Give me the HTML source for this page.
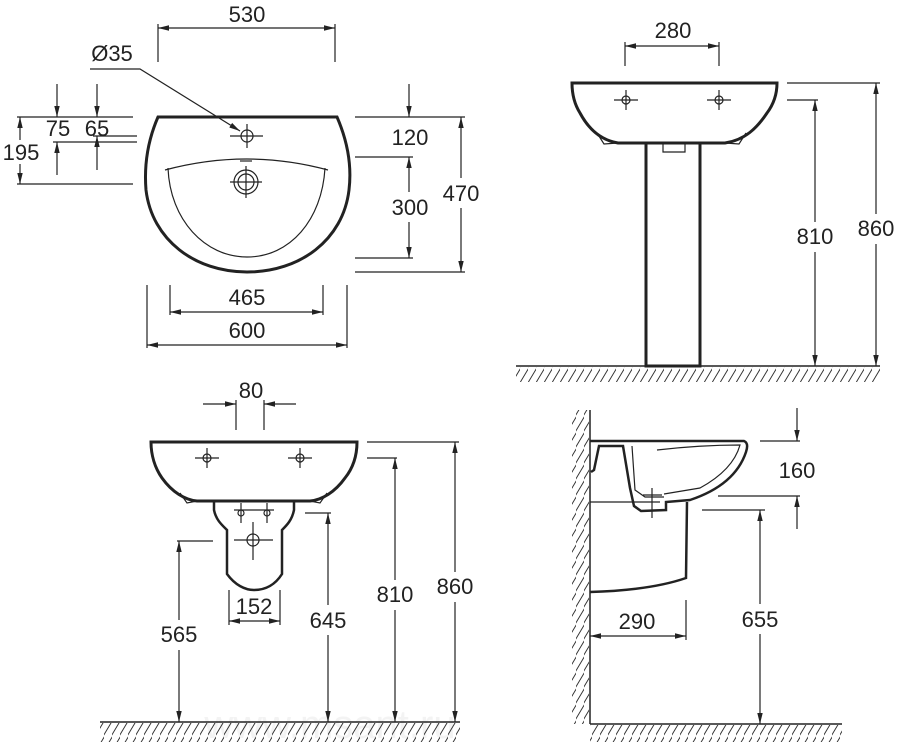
<!DOCTYPE html>
<html><head><meta charset="utf-8"><style>
html,body{margin:0;padding:0;background:#fff}
svg{display:block}
text{font-family:"Liberation Sans",Arial,sans-serif;font-size:22px;fill:#222;text-anchor:middle}
</style></head><body>
<svg width="900" height="742" viewBox="0 0 900 742" xmlns="http://www.w3.org/2000/svg">
<defs>
<marker id="a" markerUnits="userSpaceOnUse" markerWidth="12" markerHeight="8" refX="11" refY="3.5" orient="auto-start-reverse"><path d="M0,0.8 L11,3.5 L0,6.2 Z" fill="#222"/></marker>
<pattern id="h" patternUnits="userSpaceOnUse" width="8" height="16"><line x1="-2" y1="18" x2="10" y2="-2" stroke="#333" stroke-width="1"/></pattern>
</defs>
<text x="330" y="738" style="font-size:40px;fill:#f3f3f3">www.msant.ru</text>
<g stroke="#222" stroke-width="1.2" fill="none">
<!-- TOP LEFT -->
<line x1="158" y1="24" x2="158" y2="62"/><line x1="335" y1="24" x2="335" y2="62"/>
<line x1="158" y1="28" x2="335" y2="28" marker-start="url(#a)" marker-end="url(#a)"/>
<polyline points="90,69 140,69 240,131" marker-end="url(#a)"/>
<path d="M158,117 L337,117 C347,140 352,165 349,190 C343,240 300,272 247,272 C195,272 152,240 146,190 C144,165 148,140 158,117 Z" stroke-width="3"/>
<path d="M165,170 Q247,148 328,170"/>
<path d="M168,168 C170,220 205,257 247,257 C290,257 322,220 325,168"/>
<circle cx="247" cy="136" r="6"/><line x1="230" y1="136" x2="263" y2="136"/><line x1="247" y1="124" x2="247" y2="148"/>
<line x1="240" y1="161" x2="252" y2="161"/>
<circle cx="246" cy="182" r="12"/><circle cx="246" cy="182" r="8"/><line x1="230" y1="182" x2="262" y2="182"/><line x1="246" y1="166" x2="246" y2="198"/>
<line x1="17" y1="117" x2="133" y2="117"/><line x1="93" y1="136" x2="137" y2="136"/><line x1="53" y1="142" x2="137" y2="142"/><line x1="17" y1="184" x2="133" y2="184"/>
<line x1="57" y1="84" x2="57" y2="117" marker-end="url(#a)"/><line x1="57" y1="175" x2="57" y2="142" marker-end="url(#a)"/>
<line x1="97" y1="84" x2="97" y2="117" marker-end="url(#a)"/><line x1="97" y1="170" x2="97" y2="136" marker-end="url(#a)"/>
<line x1="20" y1="140" x2="20" y2="117" marker-end="url(#a)"/><line x1="20" y1="164" x2="20" y2="184" marker-end="url(#a)"/>
<line x1="355" y1="117" x2="465" y2="117"/><line x1="355" y1="157" x2="413" y2="157"/><line x1="355" y1="258" x2="413" y2="258"/><line x1="355" y1="272" x2="465" y2="272"/>
<line x1="409" y1="84" x2="409" y2="117" marker-end="url(#a)"/>
<line x1="409" y1="192" x2="409" y2="157" marker-end="url(#a)"/><line x1="409" y1="222" x2="409" y2="258" marker-end="url(#a)"/>
<line x1="461" y1="178" x2="461" y2="117" marker-end="url(#a)"/><line x1="461" y1="208" x2="461" y2="272" marker-end="url(#a)"/>
<line x1="170" y1="285" x2="170" y2="315"/><line x1="323" y1="285" x2="323" y2="315"/>
<line x1="170" y1="312" x2="323" y2="312" marker-start="url(#a)" marker-end="url(#a)"/>
<line x1="147" y1="285" x2="147" y2="348"/><line x1="347" y1="285" x2="347" y2="348"/>
<line x1="147" y1="345" x2="347" y2="345" marker-start="url(#a)" marker-end="url(#a)"/>
<!-- TOP RIGHT -->
<line x1="625" y1="42" x2="625" y2="66"/><line x1="719" y1="42" x2="719" y2="66"/>
<line x1="625" y1="46" x2="719" y2="46" marker-start="url(#a)" marker-end="url(#a)"/>
<path d="M572,83 L777,83 C777,95 773,105 767,113 C757,128 745,140 725,143 L618,143 C600,140 588,128 580,113 C575,105 572,95 572,83 Z" stroke-width="3"/>
<path d="M597,133 L604,144 L618,143 M746,133 L739,144 L725,143"/>
<circle cx="626" cy="100" r="4"/><line x1="614" y1="100" x2="638" y2="100"/><line x1="626" y1="90" x2="626" y2="110"/>
<circle cx="719" cy="100" r="4"/><line x1="707" y1="100" x2="731" y2="100"/><line x1="719" y1="90" x2="719" y2="110"/>
<path d="M663,143 L663,152 L685,152 L685,143"/>
<rect x="646" y="143" width="54" height="223" stroke-width="3"/>
<line x1="787" y1="83" x2="880" y2="83"/><line x1="787" y1="100" x2="818" y2="100"/>
<line x1="815" y1="222" x2="815" y2="100" marker-end="url(#a)"/><line x1="815" y1="252" x2="815" y2="366" marker-end="url(#a)"/>
<line x1="876" y1="214" x2="876" y2="83" marker-end="url(#a)"/><line x1="876" y1="244" x2="876" y2="366" marker-end="url(#a)"/>
<line x1="516" y1="366" x2="880" y2="366" stroke-width="1.5"/>
<!-- BOTTOM LEFT -->
<line x1="203" y1="404" x2="236" y2="404" marker-end="url(#a)"/><line x1="296" y1="404" x2="264" y2="404" marker-end="url(#a)"/>
<line x1="236" y1="400" x2="236" y2="430"/><line x1="264" y1="400" x2="264" y2="430"/>
<path d="M151,442 L357,442 C357,455 353,468 345,478 C335,492 322,500 310,501 L197,501 C185,500 172,492 162,478 C155,468 151,455 151,442 Z" stroke-width="3"/>
<path d="M180,493 L187,503 L197,501 M327,493 L320,503 L310,501"/>
<circle cx="207" cy="458" r="4"/><line x1="195" y1="458" x2="219" y2="458"/><line x1="207" y1="448" x2="207" y2="468"/>
<circle cx="300" cy="458" r="4"/><line x1="288" y1="458" x2="312" y2="458"/><line x1="300" y1="448" x2="300" y2="468"/>
<path d="M214,502 L214,510 C216,520 222,525 227,530 L227,574 C235,585 245,590 254,590 C265,590 275,585 282,574 L282,530 C287,525 292,520 294,510 L294,502" stroke-width="2.5"/>
<circle cx="241" cy="513" r="3"/><circle cx="267" cy="513" r="3"/><line x1="241" y1="503" x2="241" y2="523"/><line x1="267" y1="503" x2="267" y2="523"/><line x1="234" y1="510" x2="274" y2="510"/>
<circle cx="253" cy="540" r="6"/><line x1="234" y1="540" x2="273" y2="540"/><line x1="253" y1="522" x2="253" y2="560"/>
<line x1="177" y1="541" x2="213" y2="541"/>
<line x1="179" y1="620" x2="179" y2="541" marker-end="url(#a)"/><line x1="179" y1="650" x2="179" y2="722" marker-end="url(#a)"/>
<line x1="229" y1="590" x2="229" y2="625"/><line x1="280" y1="590" x2="280" y2="625"/>
<line x1="229" y1="621" x2="280" y2="621" marker-start="url(#a)" marker-end="url(#a)"/>
<line x1="305" y1="513" x2="331" y2="513"/>
<line x1="328" y1="605" x2="328" y2="513" marker-end="url(#a)"/><line x1="328" y1="635" x2="328" y2="722" marker-end="url(#a)"/>
<line x1="367" y1="458" x2="397" y2="458"/>
<line x1="395" y1="580" x2="395" y2="458" marker-end="url(#a)"/><line x1="395" y1="610" x2="395" y2="722" marker-end="url(#a)"/>
<line x1="367" y1="442" x2="459" y2="442"/>
<line x1="455" y1="572" x2="455" y2="442" marker-end="url(#a)"/><line x1="455" y1="602" x2="455" y2="722" marker-end="url(#a)"/>
<line x1="100" y1="722" x2="460" y2="722" stroke-width="1.5"/>
<!-- BOTTOM RIGHT -->
<line x1="590" y1="410" x2="590" y2="724" stroke-width="1.5"/>
<line x1="590" y1="724" x2="842" y2="724" stroke-width="1.5"/>
<path d="M590,441 L744,441 Q749,443 746,452 Q735,485 690,500 L666,502 L666,510 L641,511 L634,506 L630,488 L623,446 L599,446 L594,470 L591,472" stroke-width="2.5"/>
<path d="M632,446 L635,490 L645,497 L664,497 M657,450 Q700,445 740,445 Q733,470 700,488 L664,494"/>
<path d="M590,502 L660,502"/>
<line x1="652" y1="488" x2="652" y2="518"/><line x1="643" y1="495" x2="662" y2="495"/>
<path d="M687,502 L686,578 C660,587 625,591 590,592" stroke-width="2.5"/>
<line x1="760" y1="441" x2="800" y2="441"/><line x1="718" y1="496" x2="800" y2="496"/>
<line x1="797" y1="408" x2="797" y2="441" marker-end="url(#a)"/><line x1="797" y1="529" x2="797" y2="496" marker-end="url(#a)"/>
<line x1="702" y1="510" x2="765" y2="510"/>
<line x1="760" y1="604" x2="760" y2="510" marker-end="url(#a)"/><line x1="760" y1="634" x2="760" y2="724" marker-end="url(#a)"/>
<line x1="686" y1="600" x2="686" y2="640"/>
<line x1="590" y1="636" x2="686" y2="636" marker-start="url(#a)" marker-end="url(#a)"/>
</g>
<rect x="516" y="367" width="364" height="15" fill="url(#h)"/>
<rect x="100" y="723" width="360" height="19" fill="url(#h)"/>
<rect x="590" y="725" width="252" height="17" fill="url(#h)"/>
<rect x="572" y="410" width="17" height="314" fill="url(#h)"/>
<text x="247" y="22">530</text>
<text x="112" y="61">Ø35</text>
<text x="58" y="136">75</text>
<text x="97" y="136">65</text>
<text x="21" y="160">195</text>
<text x="410" y="145">120</text>
<text x="410" y="215">300</text>
<text x="461" y="201">470</text>
<text x="247" y="305">465</text>
<text x="247" y="338">600</text>
<text x="673" y="38">280</text>
<text x="815" y="244">810</text>
<text x="876" y="236">860</text>
<text x="251" y="398">80</text>
<text x="179" y="642">565</text>
<text x="254" y="614">152</text>
<text x="328" y="628">645</text>
<text x="395" y="602">810</text>
<text x="455" y="594">860</text>
<text x="797" y="478">160</text>
<text x="760" y="627">655</text>
<text x="637" y="629">290</text>
</svg>
</body></html>
